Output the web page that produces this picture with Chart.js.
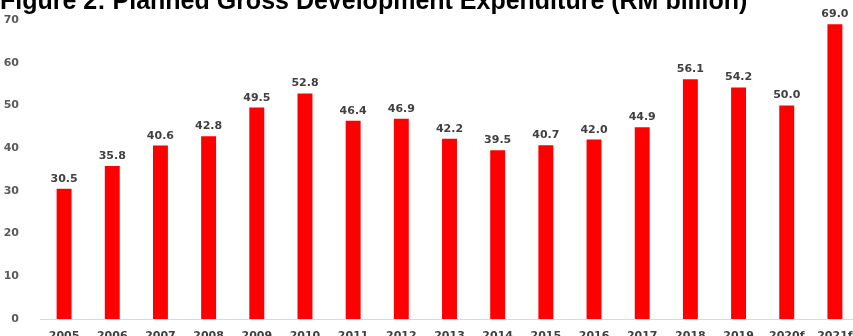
<!DOCTYPE html>
<html>
<head>
<meta charset="utf-8">
<script src="https://cdn.jsdelivr.net/npm/chart.js@4/dist/chart.umd.min.js"></script>
<style>
  html, body { margin: 0; padding: 0; background: #fff; }
  #frame { position: relative; width: 853px; height: 336px; overflow: hidden; }
  #title {
    position: absolute; left: 0; top: -12px; white-space: nowrap;
    font: bold 25px/25px "Liberation Sans", Arial, sans-serif; color: #000;
  }
  #box { position: absolute; left: 0; top: 0; width: 859px; height: 345px; }
</style>
</head>
<body>
<div id="frame">
  <div id="box"><canvas id="gdeChart"></canvas></div>
  <div id="title">Figure 2: Planned Gross Development Expenditure (RM billion)</div>
</div>
<script>
// years and planned GDE (RM billion)
const years = ['2005', '2006', '2007', '2008', '2009', '2010', '2011', '2012', '2013',
               '2014', '2015', '2016', '2017', '2018', '2019', '2020f', '2021f'];
const gde = [30.5, 35.8, 40.6, 42.8, 49.5, 52.8, 46.4, 46.9, 42.2,
             39.5, 40.7, 42.0, 44.9, 56.1, 54.2, 50.0, 69.0];
const yTicks = [0, 10, 20, 30, 40, 50, 60, 70];

const tickFont = { family: '"DejaVu Sans", Verdana, sans-serif', size: 11, weight: 'bold' };

// value labels above each bar
const barLabels = {
    id: 'barLabels',
    afterDatasetsDraw: function (chart) {
        const ctx = chart.ctx;
        const meta = chart.getDatasetMeta(0);
        ctx.save();
        ctx.font = 'bold 11px "DejaVu Sans", Verdana, sans-serif';
        ctx.fillStyle = '#404040';
        ctx.textAlign = 'center';
        ctx.textBaseline = 'alphabetic';
        meta.data.forEach(function (bar, i) {
            ctx.fillText(gde[i].toFixed(1), bar.x, bar.y - 7);
        });
        ctx.restore();
    }
};

const ctx = document.getElementById('gdeChart').getContext('2d');
new Chart(ctx, {
    type: 'bar',
    data: {
        labels: years,
        datasets: [{
            data: gde,
            backgroundColor: '#ff0000',
            borderWidth: 0,
            barPercentage: 0.31,
            categoryPercentage: 1.0
        }]
    },
    options: {
        responsive: true,
        maintainAspectRatio: false,
        animation: false,
        layout: { padding: { top: 20, left: 0, right: 0, bottom: 0 } },
        plugins: {
            legend: { display: false },
            tooltip: { enabled: false }
        },
        scales: {
            x: {
                grid: { display: false },
                border: { display: true, color: '#d9d9d9', width: 1 },
                ticks: { font: tickFont, color: '#404040', padding: 3, maxRotation: 0, autoSkip: false },
                afterFit: function (scale) { scale.height = 26; }
            },
            y: {
                min: 0,
                max: 70,
                afterBuildTicks: function (scale) {
                    scale.ticks = yTicks.map(function (v) { return { value: v }; });
                },
                grid: { display: false },
                border: { display: false },
                ticks: { font: tickFont, color: '#595959', padding: 13 },
                afterFit: function (scale) { scale.width = 40; }
            }
        }
    },
    plugins: [barLabels]
});
</script>
</body>
</html>
